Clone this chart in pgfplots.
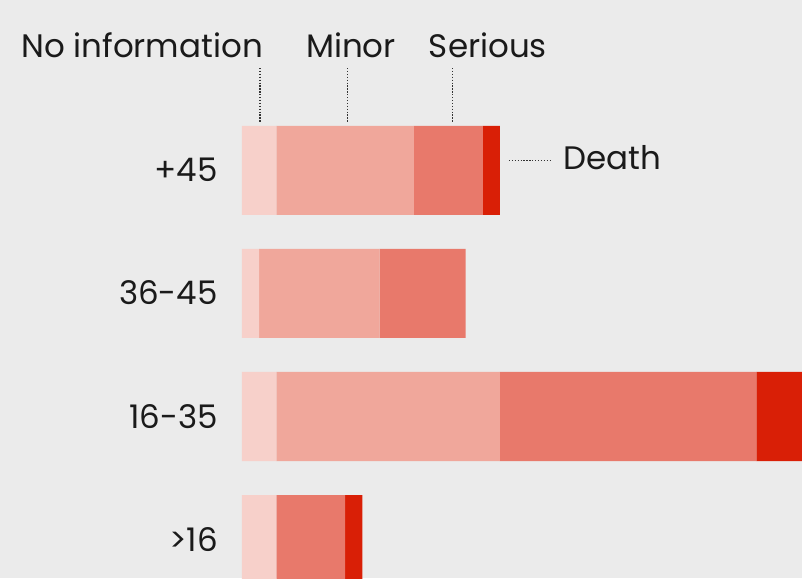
\documentclass[border=0pt]{standalone}
\usepackage{pgfplots}
\pgfplotsset{compat=1.18}
\usepackage{fontspec}
\setmainfont{Poppins}
\definecolor{bg}{HTML}{EBEBEB}
\definecolor{cnone}{HTML}{F7D0CA}
\definecolor{cminor}{HTML}{F0A79B}
\definecolor{cserious}{HTML}{E8796B}
\definecolor{cdeath}{HTML}{D91F06}
\definecolor{txt}{HTML}{1A1A1A}
\begin{document}
\begin{tikzpicture}
\fill[bg] (0,0) rectangle (802pt,578pt);
\begin{axis}[
  at={(0,0)}, anchor=south west,
  width=802pt, height=578pt, scale only axis,
  xmin=-14.07, xmax=32.56, ymin=-1.386, ymax=3.313, y dir=reverse,
  hide axis, xbar stacked, bar width=0.7236, clip=true,
  every axis plot/.append style={draw=none},
  nodes={font=\fontsize{32.5}{38}\selectfont, text=txt, inner sep=0pt},
]
\addplot[fill=cnone] coordinates {(2,0) (1,1) (2,2) (2,3)};
\addplot[fill=cminor] coordinates {(8,0) (7,1) (13,2) (0,3)};
\addplot[fill=cserious] coordinates {(4,0) (5,1) (14.9,2) (4,3)};
\addplot[fill=cdeath] coordinates {(1,0) (0,1) (3,2) (1,3)};

\node[anchor=base east] at (axis cs:-1.40,0.0935) {+45};
\node[anchor=base east] at (axis cs:-1.40,1.0935) {36-45};
\node[anchor=base east] at (axis cs:-1.40,2.0935) {16-35};
\node[anchor=base east] at (axis cs:-1.40,3.0935) {>16};

\node[anchor=base] at (axis cs:-5.81,-0.920) {No information};
\node[anchor=base] at (axis cs:6.34,-0.920) {Minor};
\node[anchor=base] at (axis cs:14.30,-0.920) {Serious};
\node[anchor=base west] at (axis cs:18.7,-0.008) {Death};

\draw[line width=1.3pt, color=black!80, dash pattern=on 1.3pt off 1.6pt] (axis cs:1.047,-0.833) -- (axis cs:1.047,-0.394);
\draw[line width=1.3pt, color=black!80, dash pattern=on 1.3pt off 1.6pt] (axis cs:6.13,-0.833) -- (axis cs:6.13,-0.394);
\draw[line width=1.3pt, color=black!80, dash pattern=on 1.3pt off 1.6pt] (axis cs:12.24,-0.833) -- (axis cs:12.24,-0.394);
\draw[line width=1.3pt, color=black!80, dash pattern=on 1.3pt off 1.6pt] (axis cs:15.52,-0.080) -- (axis cs:17.91,-0.080);
\end{axis}
\end{tikzpicture}
\end{document}
